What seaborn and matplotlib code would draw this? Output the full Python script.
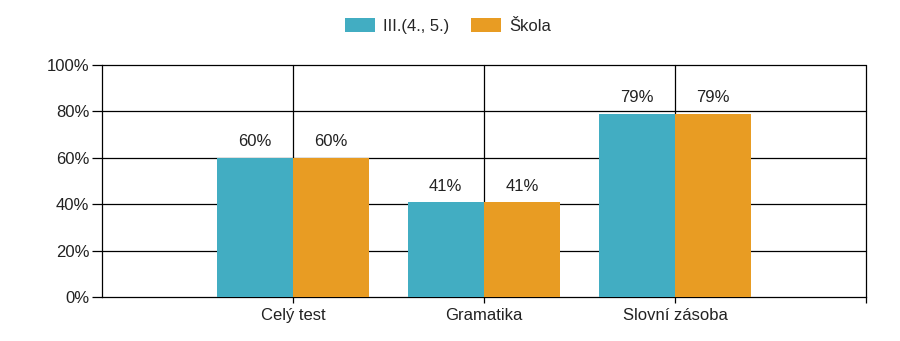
import matplotlib
matplotlib.use("Agg")
import matplotlib.pyplot as plt
import seaborn as sns
import pandas as pd
from matplotlib.patches import Patch

categories = ["Celý test", "Gramatika", "Slovní zásoba"]
series_names = ["III.(4., 5.)", "Škola"]
values_class = [60, 41, 79]
values_school = [60, 41, 79]
colors = ["#42ADC2", "#E89C23"]
y_ticks = [0, 20, 40, 60, 80, 100]

sns.set_style("white")
plt.rcParams["font.family"] = ["Liberation Sans", "DejaVu Sans"]

df = pd.DataFrame({
    "cat": categories * 2,
    "series": [series_names[0]] * 3 + [series_names[1]] * 3,
    "val": values_class + values_school,
})

FS = 12

fig = plt.figure(figsize=(9, 3.41), dpi=100)
ax = fig.add_axes([102/900, 44/341, 764/900, 232/341])
sns.barplot(data=df, x="cat", y="val", hue="series", palette=colors,
            order=categories, hue_order=series_names, width=0.8,
            saturation=1, ax=ax, legend=False, zorder=3, linewidth=0,
            edgecolor="none")

ax.set_xlim(-1, 3)
ax.set_ylim(0, 100)
ax.set_yticks(y_ticks)
ax.set_yticklabels([f"{v}%" for v in y_ticks], fontsize=FS, color="#222222")
ax.set_xticks([0, 1, 2, 3])
ax.set_xticklabels(categories + [""], fontsize=FS, color="#222222")
ax.set_xlabel("")
ax.set_ylabel("")

for y in y_ticks[1:]:
    ax.axhline(y, color="black", lw=0.9, zorder=1, clip_on=False)
for x in [0, 1, 2, 3]:
    ax.axvline(x, color="black", lw=0.9, zorder=1, clip_on=False)

for s in ["top", "right"]:
    ax.spines[s].set_visible(False)
ax.spines["left"].set_color("black")
ax.spines["bottom"].set_color("black")
ax.spines["left"].set_linewidth(0.9)
ax.spines["bottom"].set_linewidth(0.9)
ax.tick_params(axis="y", length=7, width=0.9, color="black", pad=2, left=True)
ax.tick_params(axis="x", length=4, width=0.9, color="black", pad=4, bottom=True)

for cont in ax.containers:
    for bar in cont:
        h = bar.get_height()
        ax.annotate(f"{h:.0f}%", (bar.get_x() + bar.get_width() / 2, h),
                    xytext=(0, 6), textcoords="offset points",
                    ha="center", va="bottom", fontsize=FS, color="#222222")

handles = [Patch(facecolor=c, edgecolor="none") for c in colors]
fig.legend(handles, series_names, loc="center", bbox_to_anchor=(0.4978, 1 - 26/341),
           ncol=2, frameon=False, fontsize=FS, handlelength=1.8, handleheight=0.85,
           columnspacing=1.3, handletextpad=0.5)

fig.savefig("out.png", dpi=100)
